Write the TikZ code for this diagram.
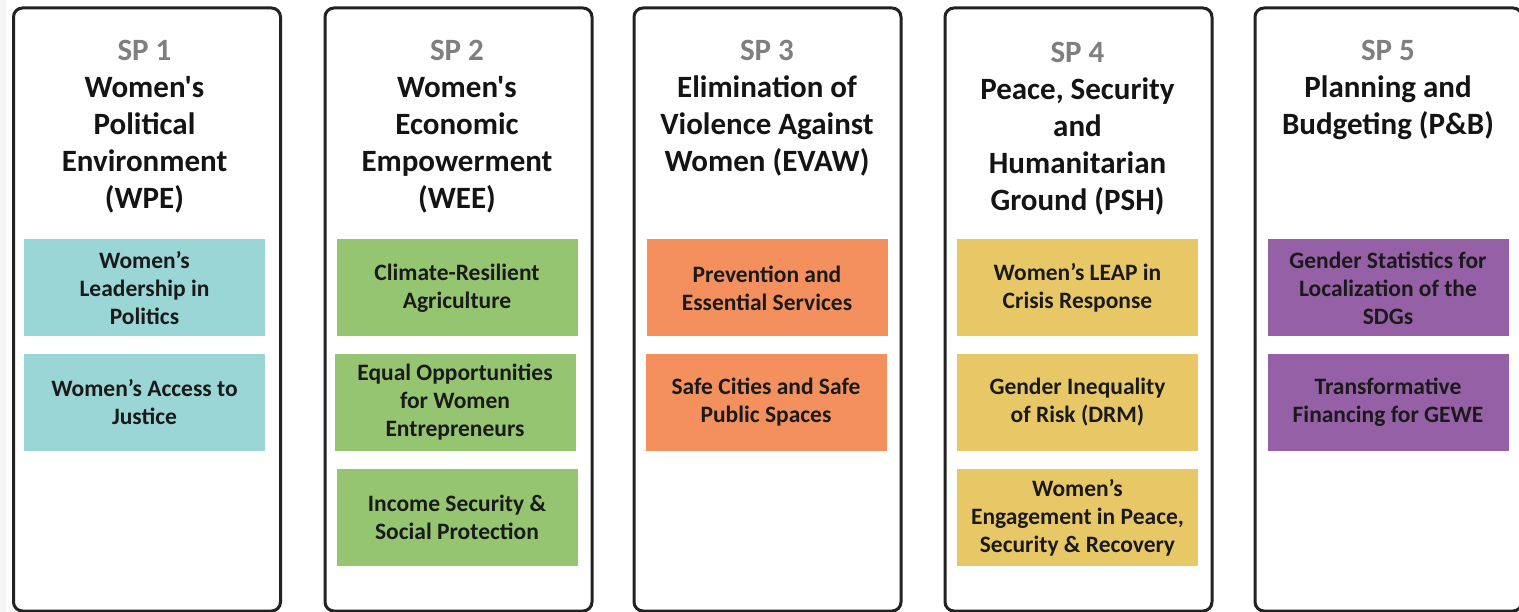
\documentclass[tikz,border=0pt]{standalone}
\usepackage{fontspec}
\setmainfont{Carlito}[Ligatures=TeXOff]
\definecolor{framec}{HTML}{222222}
\definecolor{spgray}{HTML}{7F7F7F}
\definecolor{itemtext}{HTML}{1A1A1A}
\definecolor{tealc}{HTML}{9AD6D5}
\definecolor{greenc}{HTML}{95C571}
\definecolor{orangec}{HTML}{F3905D}
\definecolor{yellowc}{HTML}{E8C866}
\definecolor{purplec}{HTML}{9660A6}
\begin{document}
\begin{tikzpicture}[x=1pt,y=-1pt,
  colframe/.style={draw=framec, line width=3pt, rounded corners=9pt, minimum width=267pt, minimum height=603pt, inner sep=0pt},
  coltitle/.style={anchor=north, align=center, inner sep=0pt, font=\fontsize{31}{37}\selectfont\bfseries, text=black!92},
  item/.style={inner sep=0pt, align=center, minimum width=241pt, minimum height=97pt, font=\fontsize{23.5}{28}\selectfont\bfseries, text=itemtext},
]
\useasboundingbox (0,0) rectangle (1519,612);
\clip (0,0) rectangle (1519,612);
\fill[white] (0,0) rectangle (1519,612);
\fill[gray!8] (0,0) rectangle (6,612);

% column frames
\node[colframe] (c1) at (147,309.5) {};
\node[colframe] (c2) at (458.5,309.5) {};
\node[colframe] (c3) at (767.5,309.5) {};
\node[colframe] (c4) at (1078.5,309.5) {};
\node[colframe] (c5) at (1388.5,309.5) {};

% titles
\node[coltitle] (t1) at (144.5,40) {{\color{spgray}SP 1}\\Women's\\Political\\Environment\\(WPE)};
\node[coltitle] (t2) at (457,40) {{\color{spgray}SP 2}\\Women's\\Economic\\Empowerment\\(WEE)};
\node[coltitle] (t3) at (767,40) {{\color{spgray}SP 3}\\Elimination of\\Violence Against\\Women (EVAW)};
\node[coltitle] (t4) at (1077.5,42) {{\color{spgray}SP 4}\\Peace, Security\\and\\Humanitarian\\Ground (PSH)};
\node[coltitle] (t5) at (1388,40) {{\color{spgray}SP 5}\\Planning and\\Budgeting (P\&B)};

% SP1 items
\node[item, fill=tealc] (a1) at (144.5,288) {Women’s\\Leadership in\\Politics};
\node[item, fill=tealc] (a2) at (144.5,402.5) {Women’s Access to\\Justice};

% SP2 items
\node[item, fill=greenc] (b1) at (457,288) {Climate-Resilient\\Agriculture};
\node[item, fill=greenc] (b2) at (455,402.5) {Equal Opportunities\\for Women\\Entrepreneurs};
\node[item, fill=greenc] (b3) at (457,517.5) {Income Security \&\\Social Protection};

% SP3 items
\node[item, fill=orangec] (d1) at (767,288) {Prevention and\\Essential Services};
\node[item, fill=orangec] (d2) at (766,402.5) {Safe Cities and Safe\\Public Spaces};

% SP4 items
\node[item, fill=yellowc] (e1) at (1077.5,288) {Women’s LEAP in\\Crisis Response};
\node[item, fill=yellowc] (e2) at (1077.5,402.5) {Gender Inequality\\of Risk (DRM)};
\node[item, fill=yellowc] (e3) at (1077.5,517.5) {Women’s\\Engagement in Peace,\\Security \& Recovery};

% SP5 items
\node[item, fill=purplec] (f1) at (1388,288) {Gender Statistics for\\Localization of the\\SDGs};
\node[item, fill=purplec] (f2) at (1388,402.5) {Transformative\\Financing for GEWE};
\end{tikzpicture}
\end{document}
